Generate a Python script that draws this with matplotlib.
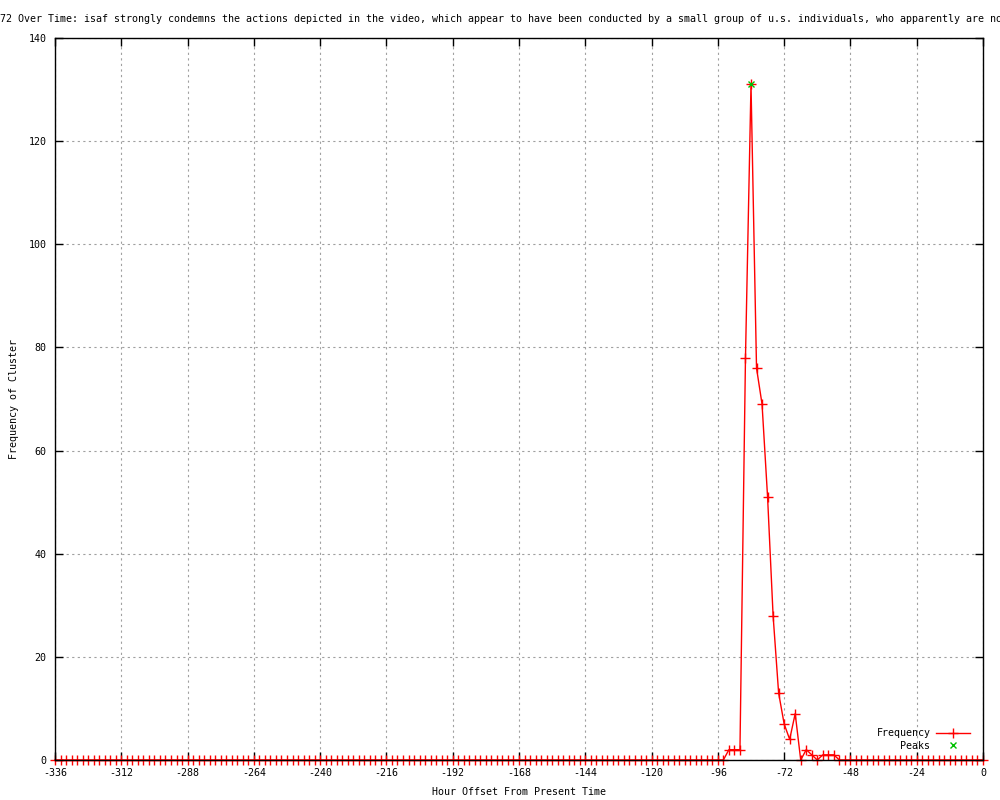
import matplotlib
matplotlib.use("Agg")
import matplotlib.pyplot as plt
import numpy as np

# Hour offsets (every 2 h) and the cluster frequency
hours = np.arange(-336, 1, 2)
frequency = [
    0, 0, 0, 0, 0, 0, 0, 0, 0, 0, 0, 0, 0, 0, 0, 0, 0, 0, 0, 0, 0, 0, 0, 0,   # -336 .. -290
    0, 0, 0, 0, 0, 0, 0, 0, 0, 0, 0, 0, 0, 0, 0, 0, 0, 0, 0, 0, 0, 0, 0, 0,   # -288 .. -242
    0, 0, 0, 0, 0, 0, 0, 0, 0, 0, 0, 0, 0, 0, 0, 0, 0, 0, 0, 0, 0, 0, 0, 0,   # -240 .. -194
    0, 0, 0, 0, 0, 0, 0, 0, 0, 0, 0, 0, 0, 0, 0, 0, 0, 0, 0, 0, 0, 0, 0, 0,   # -192 .. -146
    0, 0, 0, 0, 0, 0, 0, 0, 0, 0, 0, 0, 0, 0, 0, 0, 0, 0, 0, 0, 0, 0, 0, 0,   # -144 .. -98
    0, 0, 2, 2, 2, 78, 131, 76, 69, 51, 28, 13, 7, 4, 9, 0, 2, 1, 0, 1, 1, 1, 0, 0,  # -96 .. -50
    0, 0, 0, 0, 0, 0, 0, 0, 0, 0, 0, 0, 0, 0, 0, 0, 0, 0, 0, 0, 0, 0, 0, 0,   # -48 .. -2
    0,                                                                          # 0
]
peak_hours = [-84]
peak_values = [131]

xticks = np.arange(-336, 1, 24)
yticks = np.arange(0, 141, 20)

title = ("Cluster 1972 Over Time: isaf strongly condemns the actions depicted in the video, "
         "which appear to have been conducted by a small group of u.s. individuals, "
         "who apparently are not acting")

plt.rcParams['font.family'] = ['DejaVu Sans Mono']
plt.rcParams['font.size'] = 7.2

fig = plt.figure(figsize=(10, 8), dpi=100)
ax = fig.add_axes([0.055, 0.05, 0.928, 0.9025])

ax.plot(hours, frequency, color='red', lw=1, marker='+', ms=7, mew=1,
        clip_on=False, label='Frequency')
ax.plot(peak_hours, peak_values, ls='none', color='#00c000', marker='x', ms=5,
        mew=1, clip_on=False, label='Peaks', zorder=3)

ax.set_xlim(-336, 0)
ax.set_ylim(0, 140)
ax.set_xticks(xticks)
ax.set_yticks(yticks)
ax.set_xticklabels([str(v) for v in xticks])
ax.set_yticklabels([str(v) for v in yticks])
ax.tick_params(direction='in', length=6, width=1, top=True, right=True, pad=6)
ax.grid(True, color='#a0a0a0', ls=(0, (2, 3)), lw=0.8)
for s in ax.spines.values():
    s.set_linewidth(1)

ax.set_xlabel('Hour Offset From Present Time', labelpad=6)
ax.set_ylabel('Frequency of Cluster', labelpad=7)

# title is wider than the figure, like the original, so both ends get cut off
fig.text(0.4955, 0.976, title, ha='center', va='center')

ax.legend(loc='lower right', bbox_to_anchor=(0.994, 0.003), frameon=False,
          markerfirst=False, handlelength=3.4, handletextpad=0.6,
          labelspacing=0.25, borderpad=0.2)

fig.savefig('out.png', dpi=100)
